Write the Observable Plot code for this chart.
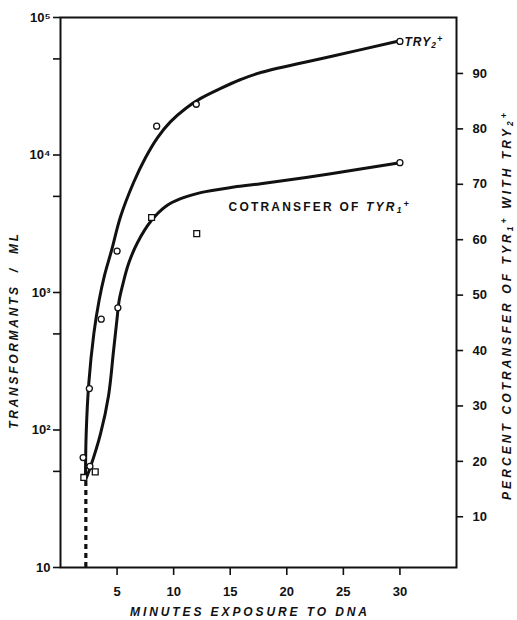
<!DOCTYPE html>
<html><head><meta charset="utf-8">
<script src="https://cdn.jsdelivr.net/npm/d3@7"></script>
<script src="https://cdn.jsdelivr.net/npm/@observablehq/plot@0.6"></script>
<style>body{margin:0;background:#fff}</style>
</head><body><div id="chart"></div>
<script>
// ---- axis ticks ----
const minuteTicks = [5, 10, 15, 20, 25, 30];
const leftTickValues = [10, 50, 100, 500, 1000, 5000, 10000, 50000, 100000];
const leftTickLabels = ["10", "", "10²", "", "10³", "", "10⁴", "", "10⁵"];
const rightPercentTicks = [10, 20, 30, 40, 50, 60, 70, 80, 90];

// ---- TRY2+ transformants / ML (circles) ----
const try2Minutes = [2.0, 2.55, 3.6, 5.0, 8.5, 12.0, 30.0];
const try2Counts = [63, 200, 640, 2000, 16200, 23400, 67000];
// fitted curve drawn by hand in the original
const try2CurveMinutes = [2.21, 2.27, 2.5, 2.95, 3.41, 3.89, 4.51, 5.31, 6.46, 7.52, 8.58, 9.73, 11.06, 12.39, 14.16, 15.93, 17.7, 23.89, 30.0];
const try2CurveCounts = [48, 94, 218, 504, 875, 1330, 2020, 3570, 6310, 9590, 13400, 17500, 21800, 25800, 30500, 35400, 39800, 52000, 67700];

// ---- cotransfer of TYR1+ (percent, right axis) ----
const cotCircleMinutes = [2.6, 5.07, 30.0];
const cotCirclePercent = [19.1, 47.7, 73.9];
const cotSquareMinutes = [2.06, 3.07, 8.05, 12.04];
const cotSquarePercent = [17.1, 18.1, 64.0, 61.1];
const cotCurveMinutes = [2.3, 2.65, 3.54, 4.25, 4.69, 4.98, 5.18, 5.49, 6.02, 6.81, 8.05, 9.29, 10.62, 12.39, 15.34, 17.7, 23.89, 30.0];
const cotCurvePercent = [17.1, 19.0, 25.0, 31.9, 40.0, 45.4, 49.0, 51.8, 55.7, 59.5, 63.5, 66.0, 67.4, 68.5, 69.5, 70.1, 71.9, 73.9];

// dashed extrapolation line
const dashMinute = 2.24;
const dashTopCount = 46;

const xMax = 35;
// right axis (percent) placed on the same frame as the log axis
const pctToCount = p => 10 ** (0.966 + p * 0.0403);

const try2Pts = try2Minutes.map((m, i) => ({m, v: try2Counts[i]}));
const try2Curve = try2CurveMinutes.map((m, i) => ({m, v: try2CurveCounts[i]}));
const cotCircles = cotCircleMinutes.map((m, i) => ({m, v: pctToCount(cotCirclePercent[i])}));
const cotSquares = cotSquareMinutes.map((m, i) => ({m, v: pctToCount(cotSquarePercent[i])}));
const cotCurve = cotCurveMinutes.map((m, i) => ({m, v: pctToCount(cotCurvePercent[i])}));
const leftLabelMap = new Map(leftTickValues.map((v, i) => [v, leftTickLabels[i]]));

const FONT = "'Liberation Sans', 'DejaVu Sans', Arial, sans-serif";

const chart = Plot.plot({
  width: 517, height: 620,
  marginLeft: 60, marginRight: 61, marginTop: 17, marginBottom: 53,
  style: {fontFamily: FONT, fontWeight: "bold", fontSize: "13px", color: "#111", background: "#fff"},
  x: {domain: [0, xMax]},
  y: {type: "log", domain: [10, 1e5]},
  marks: [
    Plot.axisY(leftTickValues, {anchor: "left", tickSize: 7, tickPadding: 3, strokeWidth: 1.6,
      tickFormat: v => leftLabelMap.get(v) ?? "", label: null}),
    // right-hand percent axis
    Plot.ruleY(rightPercentTicks, {y: pctToCount, x1: xMax, x2: xMax * 1.018, strokeWidth: 1.6, stroke: "#111"}),
    Plot.text(rightPercentTicks, {y: pctToCount, text: d => String(d), frameAnchor: "right", dx: 16, textAnchor: "start", fontSize: 13}),
    Plot.axisX(minuteTicks, {tickSize: 8, tickPadding: 11, strokeWidth: 1.6, label: null}),
    Plot.frame({strokeWidth: 2, stroke: "#111"}),
    Plot.ruleX([dashMinute], {y1: 10, y2: dashTopCount, strokeWidth: 3.2, strokeDasharray: "5 4", stroke: "#111"}),
    Plot.line(try2Curve, {x: "m", y: "v", curve: "catmull-rom", strokeWidth: 3, stroke: "#111"}),
    Plot.line(cotCurve, {x: "m", y: "v", curve: "catmull-rom", strokeWidth: 3, stroke: "#111"}),
    Plot.dot(try2Pts, {x: "m", y: "v", r: 3, stroke: "#111", fill: "#fff", strokeWidth: 1.3}),
    Plot.dot(cotCircles, {x: "m", y: "v", r: 3, stroke: "#111", fill: "#fff", strokeWidth: 1.3}),
    Plot.dot(cotSquares, {x: "m", y: "v", symbol: "square", r: 3.3, stroke: "#111", fill: "#fff", strokeWidth: 1.3})
  ]
});

document.getElementById("chart").appendChild(chart);

// ---- annotations & titles with sub/superscripts ----
const svg = d3.select(chart);
const sx = chart.scale("x"), sy = chart.scale("y");

function richText(parent, parts, attrs) {
  const t = parent.append("text").attr("font-family", FONT).attr("font-weight", "bold").attr("fill", "#111").attr("text-anchor", "start");
  for (const [k, v] of Object.entries(attrs)) t.attr(k, v);
  for (const p of parts) {
    const s = t.append("tspan").text(p.t);
    if (p.italic) s.attr("font-style", "italic");
    if (p.sub) s.attr("baseline-shift", "-25%").attr("font-size", "0.7em");
    if (p.sup) s.attr("baseline-shift", "45%").attr("font-size", "0.75em");
  }
  return t;
}

// TRY2+ label at end of upper curve
richText(svg, [{t: "TRY", italic: true}, {t: "2", italic: true, sub: true}, {t: "+", italic: true, sup: true}],
  {x: sx.apply(30) + 5, y: sy.apply(67000) + 5, "font-size": 12, "letter-spacing": 1});

// Cotransfer label
richText(svg, [{t: "COTRANSFER OF "}, {t: "TYR", italic: true}, {t: "1", italic: true, sub: true}, {t: "+", italic: true, sup: true}],
  {x: sx.apply(14.9), y: sy.apply(pctToCount(65)), "font-size": 12, "letter-spacing": 2.2});

// x title
richText(svg, [{t: "MINUTES EXPOSURE TO DNA", italic: true}],
  {x: 250, y: 616, "text-anchor": "middle", "font-size": 12, "letter-spacing": 2.9});

// left title
richText(svg, [{t: "TRANSFORMANTS  /  ML", italic: true}],
  {transform: "translate(18,330) rotate(-90)", "text-anchor": "middle", "font-size": 12, "letter-spacing": 2.7, style: "white-space:pre"});

// right title
richText(svg, [{t: "PERCENT COTRANSFER OF TYR", italic: true}, {t: "1", italic: true, sub: true}, {t: "+", italic: true, sup: true},
               {t: " WITH TRY", italic: true}, {t: "2", italic: true, sub: true}, {t: "+", italic: true, sup: true}],
  {transform: "translate(511,305) rotate(-90)", "text-anchor": "middle", "font-size": 12, "letter-spacing": 3.1});
</script>
</body></html>
